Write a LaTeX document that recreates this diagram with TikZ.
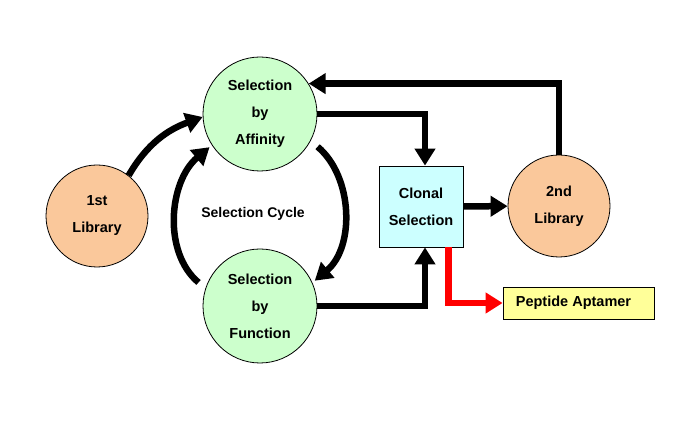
\documentclass[tikz,border=0pt]{standalone}
\usepackage{fontspec}
\setmainfont{Liberation Sans}
\usetikzlibrary{positioning,arrows.meta}

\definecolor{libfill}{RGB}{250,200,155}
\definecolor{selfill}{RGB}{204,255,204}
\definecolor{clonfill}{RGB}{204,255,255}
\definecolor{pepfill}{RGB}{255,255,153}

\begin{document}
\begin{tikzpicture}[
        x = 1pt, y = 1pt,
        font = \fontsize{14.5}{27}\selectfont\bfseries,
        flow/.style = {line width = 6.5pt, -{Triangle[length=17pt, width=20pt]}},
    ]
    \tikzstyle{libnode} = [circle, draw=black, line width=0.8pt, fill=libfill, minimum size=102pt, inner sep=0pt, align=center];
    \tikzstyle{selnode} = [circle, draw=black, line width=0.8pt, fill=selfill, minimum size=114pt, inner sep=0pt, align=center];
    \tikzstyle{boxnode} = [rectangle, draw=black, line width=0.8pt, inner sep=0pt, align=center];
    \useasboundingbox (0,0) rectangle (685,428);
    \node [libnode] (lib1) at (97,212) {1st\\Library};
    \node [selnode] (aff) at (260,314) {Selection\\by\\Affinity};
    \node [selnode] (func) at (260,122) {Selection\\by\\Function};
    \node [boxnode, fill=clonfill, minimum width=84pt, minimum height=81pt] (clonal) at (421,221.5) {Clonal\\Selection};
    \node [libnode] (lib2) at (559,222) {2nd\\Library};
    \node [boxnode, fill=pepfill, minimum width=151pt, minimum height=32pt] (pep) at (578.5,125) {Peptide Aptamer\hspace{10pt}};
    \node [font=\fontsize{14}{16}\selectfont\bfseries] (cycle) at (253,214) {Selection Cycle};
    \draw [flow] (lib1.52) to [out=60, in=200] (aff.183);
    \draw [flow, shorten <=9pt, shorten >=3pt] (aff.-28) to [out=-40, in=40] (func.24);
    \draw [flow, shorten <=9pt, shorten >=3pt] (func.162) to [out=140, in=220] (aff.213);
    \draw [flow] (aff.east) -| ([xshift=4pt]clonal.north);
    \draw [flow] (func.east) -| ([xshift=4pt]clonal.south);
    \draw [flow] (clonal) -- (lib2);
    \draw [flow] (lib2.north) |- (aff.32);
    \draw [flow, red] ([xshift=-15pt]clonal.south east) |- (pep.west);
\end{tikzpicture}
\end{document}
